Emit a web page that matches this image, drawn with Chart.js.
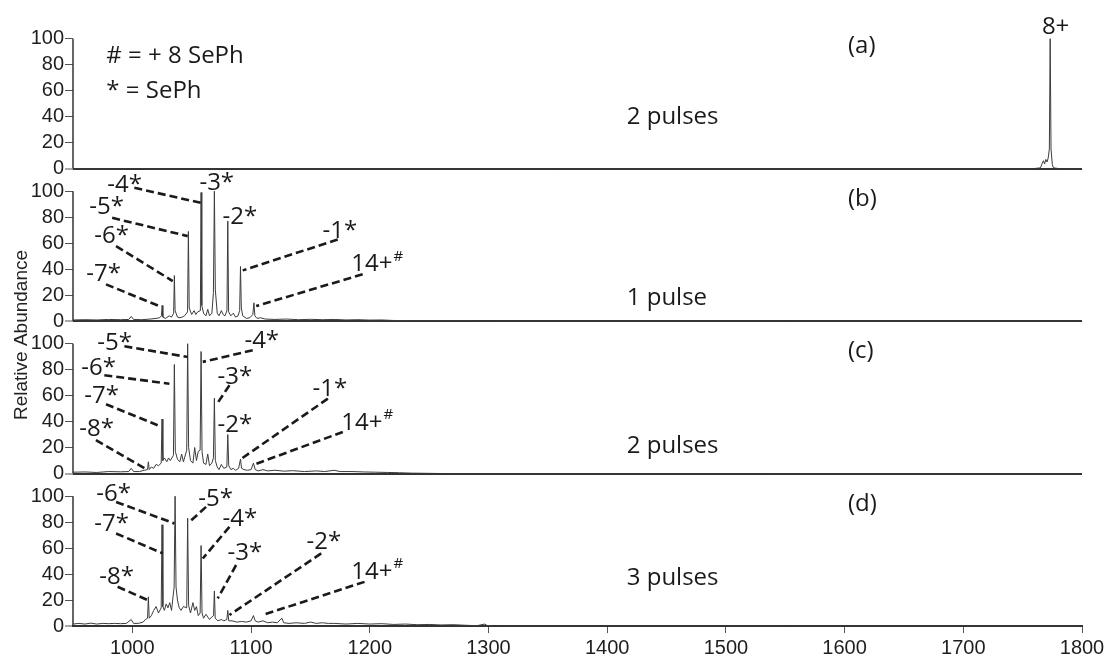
<!DOCTYPE html>
<html lang="en">
<head>
<meta charset="UTF-8">
<title>Relative abundance spectra</title>
<script src="https://cdn.jsdelivr.net/npm/chart.js"></script>
<style>
  html, body { margin: 0; padding: 0; background: #fff; }
  #wrap { width: 1112px; height: 662px; }
</style>
</head>
<body>
<div id="wrap"><canvas id="spec" width="1112" height="662"></canvas></div>
<script>
  // axis ticks
  const mzTicks = [1000, 1100, 1200, 1300, 1400, 1500, 1600, 1700, 1800];
  const abundanceTicks = [0, 20, 40, 60, 80, 100];
  const panelNames = ['(a)', '(b)', '(c)', '(d)'];
  const pulseLabels = ['2 pulses', '1 pulse', '2 pulses', '3 pulses'];
  const legendLines = ['# = + 8 SePh', '* = SePh'];

  // spectra, [m/z, relative abundance]
  const specA = [
    [950, 0], [1760, 0], [1765, 0.5], [1766.5, 4], [1767.5, 6], [1768.5, 3.5], [1769.5, 7],
    [1770.5, 5], [1771.5, 8], [1772.5, 15], [1773.2, 100], [1773.9, 15], [1775, 3], [1776, 0.5],
    [1780, 0], [1800, 0]
  ];
  const specB = [
    [950, 0.8], [960, 1], [970, 0.8], [980, 1.2], [990, 1], [997, 1.2], [999, 3.5], [1001, 1.2],
    [1008, 1], [1015, 1.5], [1020, 2], [1023, 2.5], [1024.5, 4], [1025.1, 12], [1025.7, 3],
    [1028, 2], [1031, 4], [1033, 3], [1034.8, 6], [1035.4, 35], [1036, 8], [1038, 3], [1040, 2.5],
    [1042, 3], [1044, 4], [1046.5, 7], [1047.2, 69], [1047.9, 10], [1050, 5], [1052, 8],
    [1053.5, 5], [1055, 7], [1057.3, 8], [1057.9, 99], [1058.5, 12], [1060, 6], [1062, 4],
    [1063.5, 9], [1065, 4], [1067, 6], [1068.3, 22], [1069.1, 100], [1069.9, 24], [1071.5, 6],
    [1073, 4], [1075, 8], [1076.5, 5], [1078, 4], [1079.7, 8], [1080.4, 77], [1081.1, 7],
    [1083, 4], [1085, 6], [1087, 3], [1089, 4], [1090.4, 8], [1091.1, 42], [1091.8, 10],
    [1093, 4], [1096, 2], [1099, 2.5], [1101.5, 5], [1102.4, 14], [1103.2, 4], [1105, 2],
    [1108, 2.5], [1112, 1.5], [1120, 1.2], [1130, 1.5], [1140, 1], [1150, 1.3], [1160, 1],
    [1170, 1.2], [1180, 0.8], [1190, 1], [1200, 0.7], [1210, 0.8], [1220, 0.4], [1240, 0.2],
    [1300, 0], [1800, 0]
  ];
  const specC = [
    [950, 1], [960, 1.2], [970, 0.8], [980, 1.5], [990, 1.3], [997, 1.5], [999, 4], [1001, 1.5],
    [1006, 1.5], [1010, 2.5], [1012.8, 3], [1013.5, 9], [1014.2, 3], [1016, 5], [1018, 4],
    [1020, 7], [1022, 6], [1024.3, 8], [1025, 42], [1025.7, 10], [1027, 12], [1029, 9],
    [1030.5, 12], [1032, 10], [1034.6, 14], [1035.4, 84], [1036.2, 17], [1038, 11], [1040, 9],
    [1041.5, 15], [1043, 9], [1045.8, 18], [1046.6, 100], [1047.4, 20], [1049, 10], [1051, 8],
    [1052.5, 20], [1054, 10], [1055.5, 17], [1057.1, 18], [1057.9, 94], [1058.7, 17], [1060, 8],
    [1062, 7], [1063.5, 15], [1065, 6], [1067, 8], [1068.3, 12], [1069.1, 58], [1069.9, 10],
    [1071.5, 5], [1073, 3], [1075, 7], [1077, 4], [1079.6, 5], [1080.4, 30], [1081.2, 6],
    [1083, 3], [1085, 4], [1087, 2.5], [1089.5, 4], [1091.1, 11], [1092, 4], [1094, 3],
    [1097, 2.5], [1100, 3], [1102, 8], [1103.5, 3], [1106, 2], [1110, 3], [1114, 2], [1120, 2.5],
    [1128, 1.8], [1135, 2.2], [1145, 1.5], [1155, 2], [1162, 1.5], [1170, 2.5], [1175, 1.5],
    [1185, 1.5], [1195, 1.2], [1205, 1], [1215, 0.8], [1225, 0.6], [1235, 0.3], [1260, 0],
    [1800, 0]
  ];
  const specD = [
    [950, 1.5], [955, 2], [960, 1.5], [965, 2.2], [970, 1.5], [975, 2], [980, 1.8], [985, 2],
    [990, 1.8], [995, 2], [999, 5], [1001, 2], [1005, 2], [1009, 3], [1011, 5], [1012.8, 6],
    [1013.5, 22.5], [1014.2, 6], [1016, 8], [1018, 12], [1020, 15], [1022, 10], [1024.3, 14],
    [1025, 78], [1025.7, 15], [1027, 12], [1028.5, 17], [1030, 14], [1031.5, 18], [1033, 12],
    [1035.2, 30], [1036, 100], [1036.8, 30], [1038, 20], [1039.5, 14], [1041, 12], [1043, 15],
    [1045.8, 14], [1046.6, 83], [1047.4, 16], [1049, 10], [1051, 18], [1052.5, 12], [1054, 15],
    [1055.5, 8], [1057.1, 10], [1057.9, 62], [1058.7, 10], [1060, 6], [1062, 9], [1063.5, 7],
    [1065, 5], [1067, 7], [1068.4, 8], [1069.1, 27], [1069.8, 6], [1072, 4], [1075, 5], [1077, 4],
    [1079.6, 5], [1080.4, 12], [1081.2, 4], [1084, 4], [1088, 3], [1092, 3.5], [1096, 3],
    [1100, 4], [1102, 8], [1103.5, 4], [1106, 3], [1110, 4], [1114, 2.5], [1118, 3], [1122, 2.5],
    [1126, 6], [1127.5, 2.5], [1132, 2], [1138, 2.5], [1145, 2], [1150, 3], [1155, 2],
    [1160, 2.5], [1165, 2], [1170, 2], [1180, 1.5], [1190, 2], [1200, 1.5], [1210, 1.8],
    [1220, 1.2], [1230, 1.5], [1240, 1], [1250, 1.2], [1260, 0.8], [1270, 1], [1280, 0.6],
    [1290, 0.2], [1297, 1.5], [1299, 0.2], [1310, 0], [1800, 0]
  ];

  // peak labels: text, left m/z, mid abundance, dashed leader from -> to (m/z, abundance)
  const notesA = [['8+', 1766.2, 109, null]];
  const notesB = [
    ['-4*', 978.9, 105, [1001.7, 102.6, 1057.9, 91]],
    ['-3*', 1056.5, 105.9, null],
    ['-5*', 963.7, 87.5, [983, 79.5, 1046.6, 65.4]],
    ['-2*', 1075.9, 79.8, null],
    ['-6*', 968, 65, [986.3, 57.7, 1034, 30.8]],
    ['-7*', 961.2, 35.9, [977.8, 28.2, 1022.8, 11.5]],
    ['-1*', 1160.2, 69, [1173, 62.8, 1093, 39]],
    ['14+#', 1184.4, 43.6, [1194, 36, 1104.3, 11.5]]
  ];
  const notesC = [
    ['-5*', 970.5, 100.5, [993.3, 98, 1046.6, 89.8]],
    ['-4*', 1094.4, 102, [1101.4, 95, 1059.3, 86]],
    ['-6*', 957, 81.3, [976.4, 75.7, 1031.2, 69.2]],
    ['-3*', 1071.7, 74.4, [1081.8, 68, 1070.5, 52.6]],
    ['-7*', 959.5, 59.8, [977.8, 53.4, 1021.3, 37.2]],
    ['-2*', 1071.7, 37.5, null],
    ['-8*', 955.3, 34.4, [969.3, 25.7, 1012.9, 2.6]],
    ['-1*', 1151.8, 64.8, [1164.7, 57.7, 1090.2, 10.3]],
    ['14+#', 1176, 39, [1177.3, 32, 1101.4, 6.5]]
  ];
  const notesD = [
    ['-6*', 969.6, 101.5, [986.3, 95.6, 1035.4, 79]],
    ['-5*', 1055.6, 97.7, [1062.1, 91.8, 1048.1, 80.2]],
    ['-7*', 968, 78.5, [986.3, 71.3, 1025.5, 56]],
    ['-4*', 1075.9, 82.3, [1081.8, 76.4, 1059.3, 52]],
    ['-3*', 1080.1, 56.2, [1087.4, 47, 1071.9, 21.3]],
    ['-8*', 972.2, 37.3, [987.6, 30.2, 1012.9, 20]],
    ['-2*', 1146.7, 64.8, [1159.1, 55.9, 1081.8, 8.5]],
    ['14+#', 1184.4, 41.5, [1195.6, 34, 1109.9, 8.5]]
  ];

  const spectra = [specA, specB, specC, specD];
  const notes = [notesA, notesB, notesC, notesD];
  const axisIds = ['yA', 'yB', 'yC', 'yD'];

  const inkColor = '#1a1a1a';
  const axisColor = '#333';
  const labelFont = '24px "Open Sans"';
  const tickFont = { family: '"Liberation Sans", Arial', size: 20 };

  function panelAxis(i) {
    return {
      type: 'linear',
      position: 'left',
      stack: 'panels',
      stackWeight: 1,
      weight: 4 - i,
      min: 0,
      max: 117.5,
      border: { display: false },
      grid: {
        color: c => (c.tick && c.tick.value === 0 ? axisColor : 'rgba(0,0,0,0)'),
        lineWidth: c => (c.tick && c.tick.value === 0 ? 2 : 1),
        tickColor: '#555',
        tickWidth: 1,
        tickLength: 8
      },
      ticks: { color: '#1e1e1e', padding: 1, autoSkip: false, font: tickFont },
      afterBuildTicks: s => { s.ticks = abundanceTicks.map(v => ({ value: v })); },
      afterFit: s => { s.width = 73; s.paddingTop = 0; s.paddingBottom = 0; }
    };
  }

  function drawNote(ctx, sx, sy, n) {
    const [text, tx, ty, lead] = n;
    if (lead) {
      ctx.save();
      ctx.strokeStyle = inkColor;
      ctx.lineWidth = 2.6;
      ctx.setLineDash([8, 4]);
      ctx.beginPath();
      ctx.moveTo(sx.getPixelForValue(lead[0]), sy.getPixelForValue(lead[1]));
      ctx.lineTo(sx.getPixelForValue(lead[2]), sy.getPixelForValue(lead[3]));
      ctx.stroke();
      ctx.restore();
    }
    const px = sx.getPixelForValue(tx);
    const py = sy.getPixelForValue(ty);
    ctx.fillStyle = inkColor;
    ctx.textAlign = 'left';
    ctx.textBaseline = 'middle';
    ctx.font = labelFont;
    if (text.endsWith('#')) {
      const main = text.slice(0, -1);
      ctx.fillText(main, px, py);
      const w = ctx.measureText(main).width;
      ctx.font = '15px "Open Sans"';
      ctx.fillText('#', px + w + 1, py - 8);
    } else {
      ctx.fillText(text, px, py);
    }
  }

  const decor = {
    id: 'decor',
    afterDraw(chart) {
      const ctx = chart.ctx;
      const sx = chart.scales.x;
      const area = chart.chartArea;
      ctx.save();

      axisIds.forEach((id, i) => {
        const sy = chart.scales[id];
        // vertical axis line, 0 to 100 only
        ctx.strokeStyle = axisColor;
        ctx.lineWidth = 1.5;
        ctx.beginPath();
        ctx.moveTo(area.left, sy.getPixelForValue(0));
        ctx.lineTo(area.left, sy.getPixelForValue(100));
        ctx.stroke();

        notes[i].forEach(n => drawNote(ctx, sx, sy, n));

        ctx.fillStyle = inkColor;
        ctx.font = labelFont;
        ctx.textAlign = 'left';
        ctx.textBaseline = 'middle';
        ctx.fillText(panelNames[i], sx.getPixelForValue(1602.9), sy.getPixelForValue(94));
      });

      // pulse counts
      const pulseLevel = [39.4, 17.5, 21, 36.5];
      pulseLabels.forEach((t, i) => {
        const sy = chart.scales[axisIds[i]];
        ctx.fillText(t, sx.getPixelForValue(1416.5), sy.getPixelForValue(pulseLevel[i]));
      });

      // key in panel (a)
      const ya = chart.scales.yA;
      ctx.fillText(legendLines[0], sx.getPixelForValue(978.1), ya.getPixelForValue(86.4));
      ctx.fillText(legendLines[1], sx.getPixelForValue(978.1), ya.getPixelForValue(59.8));

      // shared y title
      ctx.translate(27, 335);
      ctx.rotate(-Math.PI / 2);
      ctx.font = '19px "Liberation Sans", Arial';
      ctx.fillStyle = '#222';
      ctx.textAlign = 'center';
      ctx.textBaseline = 'alphabetic';
      ctx.fillText('Relative Abundance', 0, 0);
      ctx.restore();
    }
  };

  const scales = {
    x: {
      type: 'linear',
      min: 950,
      max: 1800,
      border: { color: axisColor, width: 2 },
      grid: { drawOnChartArea: false, tickLength: 7, tickColor: '#555' },
      ticks: {
        color: '#1e1e1e',
        padding: 3,
        maxRotation: 0,
        autoSkip: false,
        font: tickFont,
        callback: v => String(v)
      },
      afterBuildTicks: s => { s.ticks = mzTicks.map(v => ({ value: v })); },
      afterFit: s => { s.height = 36; s.paddingLeft = 0; s.paddingRight = 0; }
    }
  };
  axisIds.forEach((id, i) => { scales[id] = panelAxis(i); });

  new Chart(document.getElementById('spec'), {
    type: 'line',
    data: {
      datasets: spectra.map((s, i) => ({
        data: s.map(p => ({ x: p[0], y: p[1] })),
        yAxisID: axisIds[i],
        borderColor: '#3c3c3c',
        borderWidth: 1,
        pointRadius: 0,
        tension: 0,
        fill: false
      }))
    },
    options: {
      responsive: false,
      animation: false,
      devicePixelRatio: 1,
      layout: { padding: { top: 16, right: 30, left: 0, bottom: 0 } },
      plugins: { legend: { display: false }, tooltip: { enabled: false } },
      scales: scales
    },
    plugins: [decor]
  });
</script>
</body>
</html>
